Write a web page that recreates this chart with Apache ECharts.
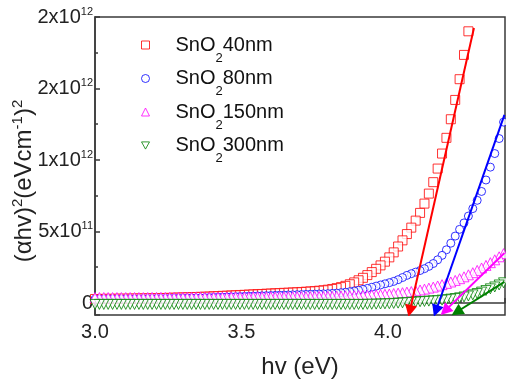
<!DOCTYPE html>
<html>
<head>
<meta charset="utf-8">
<script src="https://cdn.jsdelivr.net/npm/echarts@6/dist/echarts.min.js"></script>
<style>
html,body{margin:0;padding:0;background:#fff;}
#c{width:506px;height:382px;}
</style>
</head>
<body>
<div id="c"></div>
<script>
// photon energy (eV), shared by all samples
const hv = [3.000,3.015,3.030,3.045,3.060,3.075,3.090,3.105,3.120,3.135,3.150,3.165,3.180,3.195,3.210,3.225,3.240,3.255,3.270,3.285,
3.300,3.315,3.330,3.345,3.360,3.375,3.390,3.405,3.420,3.435,3.450,3.465,3.480,3.495,3.510,3.525,3.540,3.555,3.570,3.585,
3.600,3.615,3.630,3.645,3.660,3.675,3.690,3.705,3.720,3.735,3.750,3.765,3.780,3.795,3.810,3.825,3.840,3.855,3.870,3.885,
3.900,3.915,3.930,3.945,3.960,3.975,3.990,4.005,4.020,4.035,4.050,4.065,4.080,4.095,4.110,4.125,4.140,4.155,4.170,4.185,
4.200,4.215,4.230,4.245,4.260,4.275,4.290,4.305,4.320,4.335,4.350,4.365,4.380,4.395];

// (alpha h v)^2 in units of 1e12 (eV cm^-1)^2
const sno2_40nm = [0.028,0.028,0.029,0.029,0.029,0.030,0.030,0.030,0.031,0.031,0.032,0.032,0.033,0.033,0.034,0.035,0.035,0.036,0.037,0.038,
0.039,0.040,0.041,0.042,0.043,0.044,0.045,0.047,0.048,0.050,0.051,0.053,0.054,0.056,0.057,0.059,0.060,0.062,0.063,0.065,
0.066,0.068,0.069,0.071,0.072,0.074,0.075,0.077,0.079,0.081,0.083,0.086,0.089,0.093,0.098,0.104,0.111,0.120,0.131,0.144,
0.159,0.176,0.195,0.216,0.239,0.263,0.289,0.319,0.354,0.395,0.438,0.482,0.527,0.576,0.630,0.695,0.765,0.845,0.940,1.045,
1.155,1.285,1.420,1.565,1.735,1.900];

const sno2_80nm = [0.027,0.027,0.027,0.028,0.028,0.028,0.028,0.029,0.029,0.029,0.029,0.030,0.030,0.030,0.031,0.031,0.031,0.032,0.032,0.033,
0.033,0.034,0.035,0.035,0.036,0.037,0.038,0.039,0.040,0.041,0.042,0.043,0.044,0.045,0.046,0.047,0.048,0.049,0.050,0.051,
0.052,0.053,0.054,0.055,0.056,0.057,0.058,0.059,0.060,0.061,0.062,0.063,0.064,0.065,0.067,0.069,0.072,0.075,0.079,0.084,
0.089,0.095,0.102,0.110,0.118,0.126,0.134,0.142,0.151,0.163,0.178,0.193,0.205,0.216,0.227,0.240,0.256,0.276,0.302,0.333,
0.372,0.418,0.468,0.515,0.560,0.608,0.660,0.718,0.780,0.860,0.950,1.045,1.150,1.265];

const sno2_150nm = [0.038,0.038,0.038,0.038,0.038,0.038,0.038,0.038,0.038,0.038,0.038,0.038,0.038,0.039,0.039,0.039,0.039,0.039,0.039,0.039,
0.039,0.039,0.039,0.040,0.040,0.040,0.040,0.040,0.040,0.040,0.041,0.041,0.041,0.041,0.041,0.041,0.042,0.042,0.042,0.042,
0.042,0.042,0.043,0.043,0.043,0.043,0.044,0.044,0.044,0.044,0.045,0.045,0.045,0.046,0.046,0.047,0.048,0.049,0.050,0.051,
0.052,0.053,0.054,0.056,0.057,0.059,0.061,0.063,0.066,0.069,0.072,0.076,0.080,0.085,0.091,0.097,0.104,0.111,0.119,0.128,
0.137,0.147,0.158,0.170,0.183,0.197,0.212,0.228,0.245,0.263,0.282,0.302,0.323,0.345];

const sno2_300nm = [-0.010,-0.010,-0.010,-0.010,-0.010,-0.010,-0.010,-0.010,-0.010,-0.010,-0.010,-0.010,-0.010,-0.010,-0.010,-0.010,-0.010,-0.010,-0.010,-0.010,
-0.010,-0.010,-0.010,-0.010,-0.010,-0.010,-0.010,-0.010,-0.010,-0.010,-0.010,-0.010,-0.010,-0.010,-0.010,-0.010,-0.010,-0.010,-0.010,-0.010,
-0.010,-0.010,-0.010,-0.010,-0.010,-0.010,-0.010,-0.010,-0.010,-0.010,-0.010,-0.010,-0.010,-0.010,-0.010,-0.010,-0.010,-0.010,-0.010,-0.010,
-0.010,-0.010,-0.009,-0.009,-0.008,-0.007,-0.006,-0.005,-0.003,-0.001,0.001,0.003,0.005,0.007,0.009,0.011,0.013,0.015,0.017,0.020,
0.023,0.027,0.031,0.036,0.042,0.049,0.057,0.066,0.076,0.087,0.099,0.112,0.126,0.141];

// linear fits (Tauc extrapolation), start point and arrow end point
const fitStartHv  = [4.294, 4.398, 4.398, 4.398];
const fitStartVal = [1.923, 1.315, 0.350, 0.147];
const fitEndHv    = [4.075, 4.164, 4.195, 4.235];
const fitEndVal   = [-0.056, -0.056, -0.055, -0.063];

const sampleNames = ['40nm', '80nm', '150nm', '300nm'];
const xTicks = [3.0, 3.5, 4.0];
const yTickLabels = {'0': ['0', ''], '0.5': ['5x10', '11'], '1': ['1x10', '12'], '1.5': ['2x10', '12'], '2': ['2x10', '12']};

const colors = ['#ff0000', '#0000ff', '#ff00ff', '#008000'];
const symbols = ['rect', 'circle', 'triangle', 'triangle'];
const legendIcons = ['rect', 'circle', 'triangle', 'path://M0,0L10,0L5,9Z'];
const rotates = [0, 0, 0, 180];
const sizes = [9, 8, 10, 10];
const FONT = 'Liberation Sans, Arial, sans-serif';

const seriesValues = [sno2_40nm, sno2_80nm, sno2_150nm, sno2_300nm];

const series = [];
seriesValues.forEach(function (vals, k) {
  const pts = [];
  for (let i = 0; i < vals.length; i++) pts.push([hv[i], vals[i]]);
  pts.reverse(); // recorded from long to short wavelength
  series.push({
    name: 'SnO2 ' + sampleNames[k],
    type: 'scatter',
    data: pts,
    symbol: symbols[k],
    symbolRotate: rotates[k],
    symbolSize: sizes[k],
    itemStyle: {color: '#ffffff', borderColor: colors[k], borderWidth: 1},
    silent: true,
    clip: true,
    z: 2
  });
});
for (let k = 0; k < 4; k++) {
  series.push({
    type: 'lines',
    coordinateSystem: 'cartesian2d',
    data: [{coords: [[fitStartHv[k], fitStartVal[k]], [fitEndHv[k], fitEndVal[k]]]}],
    symbol: ['none', 'triangle'],
    symbolSize: 12,
    lineStyle: {color: colors[k], width: 2, opacity: 1},
    itemStyle: {color: colors[k]},
    silent: true,
    z: 3
  });
}

const chart = echarts.init(document.getElementById('c'), null, {renderer: 'canvas'});
chart.setOption({
  animation: false,
  backgroundColor: '#ffffff',
  grid: {left: 95, right: 1, top: 17, bottom: 67, containLabel: false, outerBoundsMode: 'none',
         show: true, borderColor: '#3a3a3a', borderWidth: 1.5, backgroundColor: 'transparent'},
  legend: {
    orient: 'vertical', left: 141, top: 35, padding: 0, itemGap: 4,
    itemWidth: 8, itemHeight: 8,
    selectedMode: false,
    data: sampleNames.map(function (n, k) {
      return {name: 'SnO2 ' + n, icon: legendIcons[k], itemStyle: {color: '#ffffff', borderColor: colors[k], borderWidth: 1}};
    }),
    formatter: function (name) {
      return '{f|SnO}{s|2}{m|' + name.split(' ')[1] + '}';
    },
    textStyle: {
      fontFamily: FONT, fontSize: 20, color: '#111',
      rich: {
        f: {fontFamily: FONT, fontSize: 20, color: '#111', padding: [0, 0, 0, 21]},
        m: {fontFamily: FONT, fontSize: 20, color: '#111'},
        s: {fontFamily: FONT, fontSize: 13, color: '#111', padding: [26, 0, 0, 0]}
      }
    }
  },
  xAxis: {
    type: 'value', min: 3.0, max: 4.4, interval: 0.5,
    name: 'hv (eV)', nameLocation: 'middle', nameGap: 40, nameMoveOverlap: false,
    nameTextStyle: {fontFamily: FONT, fontSize: 24, color: '#222'},
    axisLine: {show: true, lineStyle: {color: '#3a3a3a', width: 1.5}},
    axisTick: {show: true, inside: true, length: 5, lineStyle: {color: '#3a3a3a', width: 1.5}},
    minorTick: {show: true, splitNumber: 2, length: 3, lineStyle: {color: '#3a3a3a', width: 1.5}},
    splitLine: {show: false},
    axisLabel: {
      fontFamily: FONT, fontSize: 20, color: '#222', margin: 7,
      formatter: function (v) {
        for (const t of xTicks) if (Math.abs(v - t) < 1e-6) return t.toFixed(1);
        return '';
      }
    }
  },
  yAxis: {
    type: 'value', min: -0.084, max: 2.0, splitNumber: 4,
    name: '{m|(αhv)}{s|2}{m|(eVcm}{s|-1}{m|)}{s|2}', nameLocation: 'middle', nameGap: 56, nameRotate: 90,
    nameMoveOverlap: false,
    nameTextStyle: {
      fontFamily: FONT, fontSize: 24, color: '#222', padding: [0, 30, 0, 0],
      rich: {
        m: {fontFamily: FONT, fontSize: 24, color: '#222'},
        s: {fontFamily: FONT, fontSize: 15, color: '#222', padding: [0, 0, 14, 0]}
      }
    },
    axisLine: {show: true, lineStyle: {color: '#3a3a3a', width: 1.5}},
    axisTick: {show: true, inside: true, length: 5, lineStyle: {color: '#3a3a3a', width: 1.5}},
    minorTick: {show: true, splitNumber: 2, length: 3, lineStyle: {color: '#3a3a3a', width: 1.5}},
    splitLine: {show: false},
    axisLabel: {
      fontFamily: FONT, fontSize: 20, color: '#222', margin: 2,
      formatter: function (v) {
        const key = String(Math.round(v * 100) / 100);
        const lab = yTickLabels[key];
        if (!lab || Math.abs(v - Number(key)) > 1e-6) return '';
        return lab[1] ? '{m|' + lab[0] + '}{s|' + lab[1] + '}' : '{m|' + lab[0] + '}';
      },
      rich: {
        m: {fontFamily: FONT, fontSize: 20, color: '#222'},
        s: {fontFamily: FONT, fontSize: 11, color: '#222', padding: [0, 0, 11, 0]}
      }
    }
  },
  series: series
});
</script>
</body>
</html>
